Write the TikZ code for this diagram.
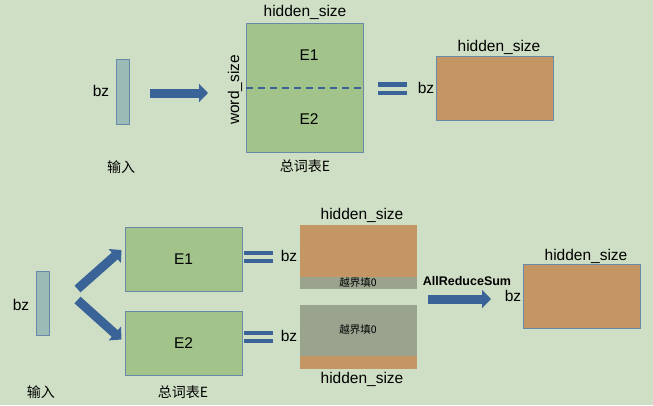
\documentclass[tikz,border=0pt]{standalone}
\usepackage{fontspec}
\setmainfont{Liberation Sans}
\newfontfamily\cjk{Noto Sans CJK SC}
\usetikzlibrary{arrows.meta}
\definecolor{bgc}{HTML}{CFDFC5}
\definecolor{barc}{HTML}{9BBCB6}
\definecolor{edgec}{HTML}{6A88A8}
\definecolor{embc}{HTML}{A2C48B}
\definecolor{outc}{HTML}{C49664}
\definecolor{padc}{HTML}{9AA38E}
\definecolor{arrc}{HTML}{3A6398}

\begin{document}
\begin{tikzpicture}[x=1pt,y=-1pt,
    txt/.style={font=\fontsize{15.5}{18}\selectfont, inner sep=0pt},
    cn/.style={font=\cjk\fontsize{14}{17}\selectfont, inner sep=0pt},
    small/.style={font=\cjk\fontsize{10.5}{12}\selectfont, inner sep=0pt},
    inbar/.style={draw=edgec, line width=1pt, fill=barc, minimum width=13pt, minimum height=65pt, inner sep=0pt},
    emb/.style={draw=edgec, line width=1pt, fill=embc, minimum width=117pt, inner sep=0pt},
    res/.style={fill=outc, minimum width=117pt, minimum height=64pt, inner sep=0pt},
    bigarrow/.style={arrc, line width=9pt, -{Triangle[length=9pt, width=18pt]}}]

    \fill[bgc] (0,0) rectangle (653,405);

    % top: lookup in the whole table
    \node[inbar] (inA) at (122.5,91.5) {};
    \node[txt] (bzA) at (101,91) {bz};
    \node[cn] (inAtxt) at (121,167) {输入};

    \node[emb, minimum height=129pt] (EA) at (305,87.5) {};
    \draw[arrc, line width=2pt, dash pattern=on 7pt off 5pt] (EA.west) -- (EA.east);
    \node[txt] (EA1) at (309,55) {E1};
    \node[txt] (EA2) at (309,119) {E2};
    \node[txt] (hsA) at (305,12) {hidden\_size};
    \node[txt, rotate=90] (wsA) at (235,90) {word\_size};
    \node[cn] (EAtxt) at (305,166) {总词表E};

    \draw[bigarrow, shorten <=20pt, shorten >=38pt] ([yshift=-1.5pt]inA.east) -- ([yshift=-1.5pt]inA.east -| EA.west);

    \fill[arrc] (378,82) rectangle (407,86.5);
    \fill[arrc] (378,90.5) rectangle (407,95);
    \node[txt] (bzA2) at (426,88) {bz};

    \node[res, draw=edgec, line width=1pt] (OA) at (495,88) {};
    \node[txt] (hsA2) at (499,47) {hidden\_size};

    % bottom: each part looks up its own rows
    \node[inbar, minimum height=64pt] (inB) at (42.5,303) {};
    \node[txt] (bzB) at (21,305) {bz};
    \node[cn] (inBtxt) at (41,392) {输入};

    \node[emb, minimum height=64pt] (E1B) at (183.5,259) {};
    \node[emb, minimum height=64pt] (E2B) at (183.5,343.5) {};
    \node[cn] (EBtxt) at (183,392) {总词表E};
    \node[txt] (E1Btxt) at (E1B) {E1};
    \node[txt] (E2Btxt) at (E2B) {E2};

    \draw[bigarrow] ([shift={(28,-14)}]inB.east) -- ([shift={(-3,-9)}]E1B.west);
    \draw[bigarrow] ([shift={(28,-3)}]inB.east) -- ([shift={(-3,-4)}]E2B.west);

    \fill[arrc] (244,251) rectangle (273,255);
    \fill[arrc] (244,259) rectangle (273,263);
    \fill[arrc] (244,331) rectangle (273,335);
    \fill[arrc] (244,339) rectangle (273,343);
    \node[txt] (bzB1) at (289,256) {bz};
    \node[txt] (bzB2) at (289,336) {bz};

    \node[res] (P1) at (358.5,257) {};
    \fill[padc] (P1.south west) rectangle ([yshift=12pt]P1.south east);
    \node[small] (pad1) at (358,283) {越界填0};
    \node[txt] (hsP1) at (362,215) {hidden\_size};

    \node[res, fill=padc] (P2) at (358.5,336.5) {};
    \fill[outc] (P2.south west) rectangle ([yshift=13pt]P2.south east);
    \node[small] (pad2) at (358,330) {越界填0};
    \node[txt] (hsP2) at (362,379) {hidden\_size};

    \coordinate (sumIn) at (428,299);
    \node[font=\bfseries\fontsize{12.5}{14}\selectfont, inner sep=0pt] (sumtxt) at (467,281) {AllReduceSum};

    \node[res, draw=edgec, line width=1pt] (OB) at (582,296) {};
    \node[txt] (hsB) at (586,256) {hidden\_size};
    \node[txt] (bzB3) at (513,296) {bz};

    \draw[bigarrow, shorten >=32pt] (sumIn) -- (sumIn -| OB.west);

\end{tikzpicture}
\end{document}
